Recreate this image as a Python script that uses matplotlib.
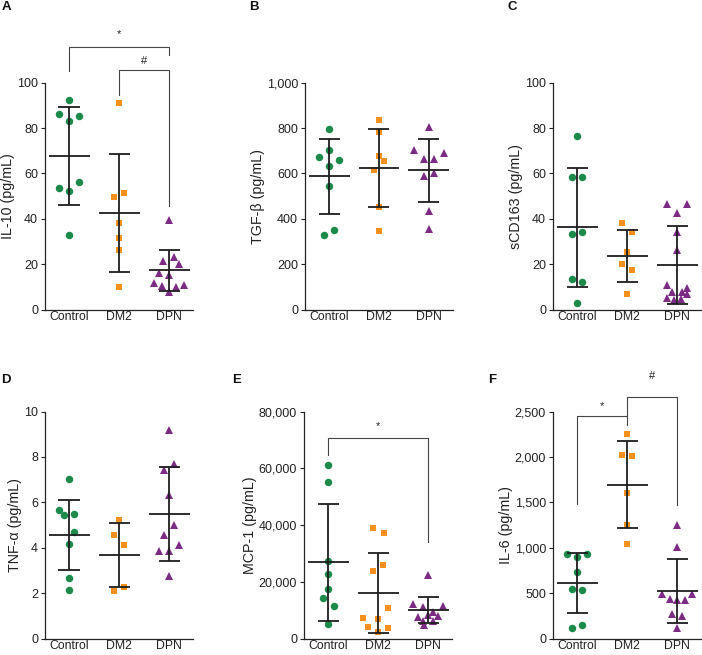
import matplotlib
matplotlib.use('Agg')
import matplotlib.pyplot as plt
from matplotlib.ticker import FuncFormatter, MultipleLocator

plt.rcParams['font.family'] = ['Liberation Sans', 'DejaVu Sans']

groups = ['Control', 'DM2', 'DPN']

# ---- Panel A: IL-10 ----
a_ctrl = [92.5, 86, 83, 85.5, 53.5, 52.5, 56.4, 33]
a_dm2 = [91.2, 49.5, 51.4, 38.1, 31.6, 26.2, 9.8]
a_dpn = [39.4, 21.4, 23.1, 20.2, 16.1, 15.4, 11.7, 10.5, 10.2, 11.0, 7.6]
a_mean = [67.7, 42.6, 17.3]
a_sd = [21.6, 25.8, 9.1]

# ---- Panel B: TGF-beta ----
b_ctrl = [795, 704, 671, 660, 635, 543, 328, 351]
b_dm2 = [835, 785, 678, 656, 616, 451, 348]
b_dpn = [805, 703, 691, 662, 662, 587, 603, 436, 357]
b_mean = [587, 624, 615]
b_sd = [167, 173, 139]

# ---- Panel C: sCD163 ----
c_ctrl = [76.4, 58.3, 58.3, 33.4, 34.1, 13.6, 12.4, 2.9]
c_dm2 = [38.1, 34.4, 25.6, 20.2, 17.3, 6.7]
c_dpn = [46.7, 46.4, 42.8, 34.3, 26.2, 11.1, 9.7, 7.6, 8.0, 6.8, 5.0, 4.3, 4.7]
c_mean = [36.3, 23.7, 19.7]
c_sd = [26.3, 11.5, 17.2]

# ---- Panel D: TNF-alpha ----
d_ctrl = [7.04, 5.68, 5.45, 5.49, 4.67, 4.15, 2.66, 2.15]
d_dm2 = [5.24, 4.58, 4.14, 2.11, 2.26]
d_dpn = [9.18, 7.69, 7.44, 6.31, 5.02, 4.58, 4.14, 3.87, 3.87, 2.77]
d_mean = [4.56, 3.68, 5.50]
d_sd = [1.56, 1.40, 2.07]

# ---- Panel E: MCP-1 ----
e_ctrl = [61300, 55300, 27400, 22600, 17500, 14100, 11500, 5050]
e_dm2 = [38900, 37200, 25900, 23900, 10600, 7400, 6800, 4200, 3760, 2350]
e_dpn = [22500, 12000, 11000, 11500, 9500, 7500, 8200, 7800, 6300, 6000, 4800]
e_mean = [26900, 16100, 10050]
e_sd = [20600, 14100, 4750]

# ---- Panel F: IL-6 ----
f_ctrl = [935, 898, 935, 733, 550, 539, 118, 147]
f_dm2 = [2252, 2017, 2006, 1603, 1254, 1042]
f_dpn = [1254, 1009, 495, 440, 421, 429, 487, 275, 245, 118]
f_mean = [608, 1694, 525]
f_sd = [330, 476, 349]

# horizontal jitter (in symbol-width slots) for the scatter columns
a_jit = [[0, -1, 0, 1, -1, 0, 1, 0],
         [0, -0.5, 0.5, 0, 0, 0, 0],
         [0, -0.6, 0.45, 1, -1, 0, -1.5, -0.75, 0.7, 1.45, 0]]
b_jit = [[0, 0, -1, 1, 0, 0, -0.5, 0.5],
         [0, 0, 0, 0.5, -0.5, 0, 0],
         [0, -1.5, 1.5, -0.5, 0.5, -0.5, 0.5, 0, 0]]
c_jit = [[0, -0.5, 0.5, -0.5, 0.5, -0.5, 0.5, 0],
         [-0.5, 0.5, 0, -0.5, 0.5, 0],
         [-1, 1, 0, 0, 0, -1, 1, -0.5, 0.5, 1, -1, -0.35, 0.35]]
d_jit = [[0, -1, -0.5, 0.5, 0.5, 0, 0, 0],
         [0, -0.5, 0.5, -0.5, 0.5],
         [0, 0.5, -0.5, 0, 0.5, -0.5, 1, -1, 0, 0]]
e_jit = [[0, 0, 0, 0, 0, -0.55, 0.55, 0],
         [-0.55, 0.55, 0.5, -0.5, 1, -1.5, 0, -1, 1, 0],
         [0, -1.5, -0.5, 1.5, 0.5, -1, 0, 1, -0.5, 0.5, -0.4]]
f_jit = [[-1, 0, 1, 0, -0.5, 0.5, -0.5, 0.5],
         [0, -0.5, 0.5, 0, 0, 0],
         [0, 0, -1.5, -0.75, 0, 0.75, 1.5, -0.5, 0.5, 0]]

colors = ['#1d8a4c', '#f7901e', '#7b2b84']
markers = ['o', 's', '^']
msizes = [5.4, 5.0, 5.6]
SLOT = 0.2
W = 148 / 702
H = 227 / 655

fig = plt.figure(figsize=(7.02, 6.55), dpi=100)

def comma(v, pos):
    return f'{int(round(v)):,}'

def panel(left_px, bottom_px, data, jit, means, sds, ymax, ystep, ylabel):
    ax = fig.add_axes([left_px / 702, 1 - bottom_px / 655, W, H])
    for i, vals in enumerate(data):
        xs = [i + 1 + j * SLOT for j in jit[i]]
        ax.plot(xs, vals, linestyle='none', marker=markers[i], color=colors[i],
                markersize=msizes[i], markeredgewidth=0, zorder=2, clip_on=False)
    for i in range(3):
        x = i + 1
        m, s = means[i], sds[i]
        ax.plot([x - 0.41, x + 0.41], [m, m], color='#1e1e1e', lw=1.3, zorder=3,
                solid_capstyle='butt')
        ax.plot([x, x], [m - s, m + s], color='#1e1e1e', lw=1.3, zorder=3,
                solid_capstyle='butt')
        for yy in (m - s, m + s):
            ax.plot([x - 0.21, x + 0.21], [yy, yy], color='#1e1e1e', lw=1.3,
                    zorder=3, solid_capstyle='butt')
    ax.set_xlim(0.52, 3.48)
    ax.set_ylim(0, ymax)
    ax.yaxis.set_major_locator(MultipleLocator(ystep))
    ax.yaxis.set_major_formatter(FuncFormatter(comma))
    ax.set_xticks([1, 2, 3])
    ax.set_xticklabels(groups)
    ax.tick_params(axis='x', length=0, pad=1, labelsize=8.8, colors='#222222')
    ax.tick_params(axis='y', length=3, width=0.8, pad=2, labelsize=9,
                   colors='#222222')
    for sp in ('top', 'right'):
        ax.spines[sp].set_visible(False)
    for sp in ('left', 'bottom'):
        ax.spines[sp].set_linewidth(0.9)
        ax.spines[sp].set_color('#222222')
    ax.set_ylabel(ylabel, fontsize=10.3, color='#222222', labelpad=1.5)
    return ax

def bracket(ax, x1, x2, ytop, y1, y2, label, label_y):
    ax.plot([x1, x1, x2, x2], [y1, ytop, ytop, y2], color='#444444', lw=0.8,
            clip_on=False, zorder=4)
    ax.text((x1 + x2) / 2, label_y, label, ha='center', va='center', fontsize=8,
            color='#222222')

TOP_ROW = 309.7
BOT_ROW = 638.5

axA = panel(45, TOP_ROW, [a_ctrl, a_dm2, a_dpn], a_jit, a_mean, a_sd, 100, 20,
            'IL-10 (pg/mL)')
axB = panel(305, TOP_ROW, [b_ctrl, b_dm2, b_dpn], b_jit, b_mean, b_sd, 1000, 200,
            'TGF-β (pg/mL)')
axC = panel(553, TOP_ROW, [c_ctrl, c_dm2, c_dpn], c_jit, c_mean, c_sd, 100, 20,
            'sCD163 (pg/mL)')
axD = panel(45, BOT_ROW, [d_ctrl, d_dm2, d_dpn], d_jit, d_mean, d_sd, 10, 2,
            'TNF-α (pg/mL)')
axE = panel(304, BOT_ROW, [e_ctrl, e_dm2, e_dpn], e_jit, e_mean, e_sd, 80000, 20000,
            'MCP-1 (pg/mL)')
axF = panel(553, BOT_ROW, [f_ctrl, f_dm2, f_dpn], f_jit, f_mean, f_sd, 2500, 500,
            'IL-6 (pg/mL)')

bracket(axA, 1, 3, 115.9, 105.3, 112.3, '*', 121.5)
bracket(axA, 2, 3, 105.7, 94.7, 45.8, '#', 109.5)
bracket(axE, 1, 3, 70560, 64700, 34100, '*', 74700)
bracket(axF, 1, 2, 2450, 1485, 2346, '*', 2563)
bracket(axF, 2, 3, 2659, 2450, 1466, '#', 2896)

for lab, x, y in [('A', 2, 7), ('B', 249, 7), ('C', 508, 7),
                  ('D', 1, 380), ('E', 232, 380), ('F', 488, 380)]:
    fig.text(x / 702, 1 - y / 655, lab, fontsize=9.5, fontweight='bold',
             ha='left', va='center', color='#111111')

fig.savefig('out.png', dpi=100)
